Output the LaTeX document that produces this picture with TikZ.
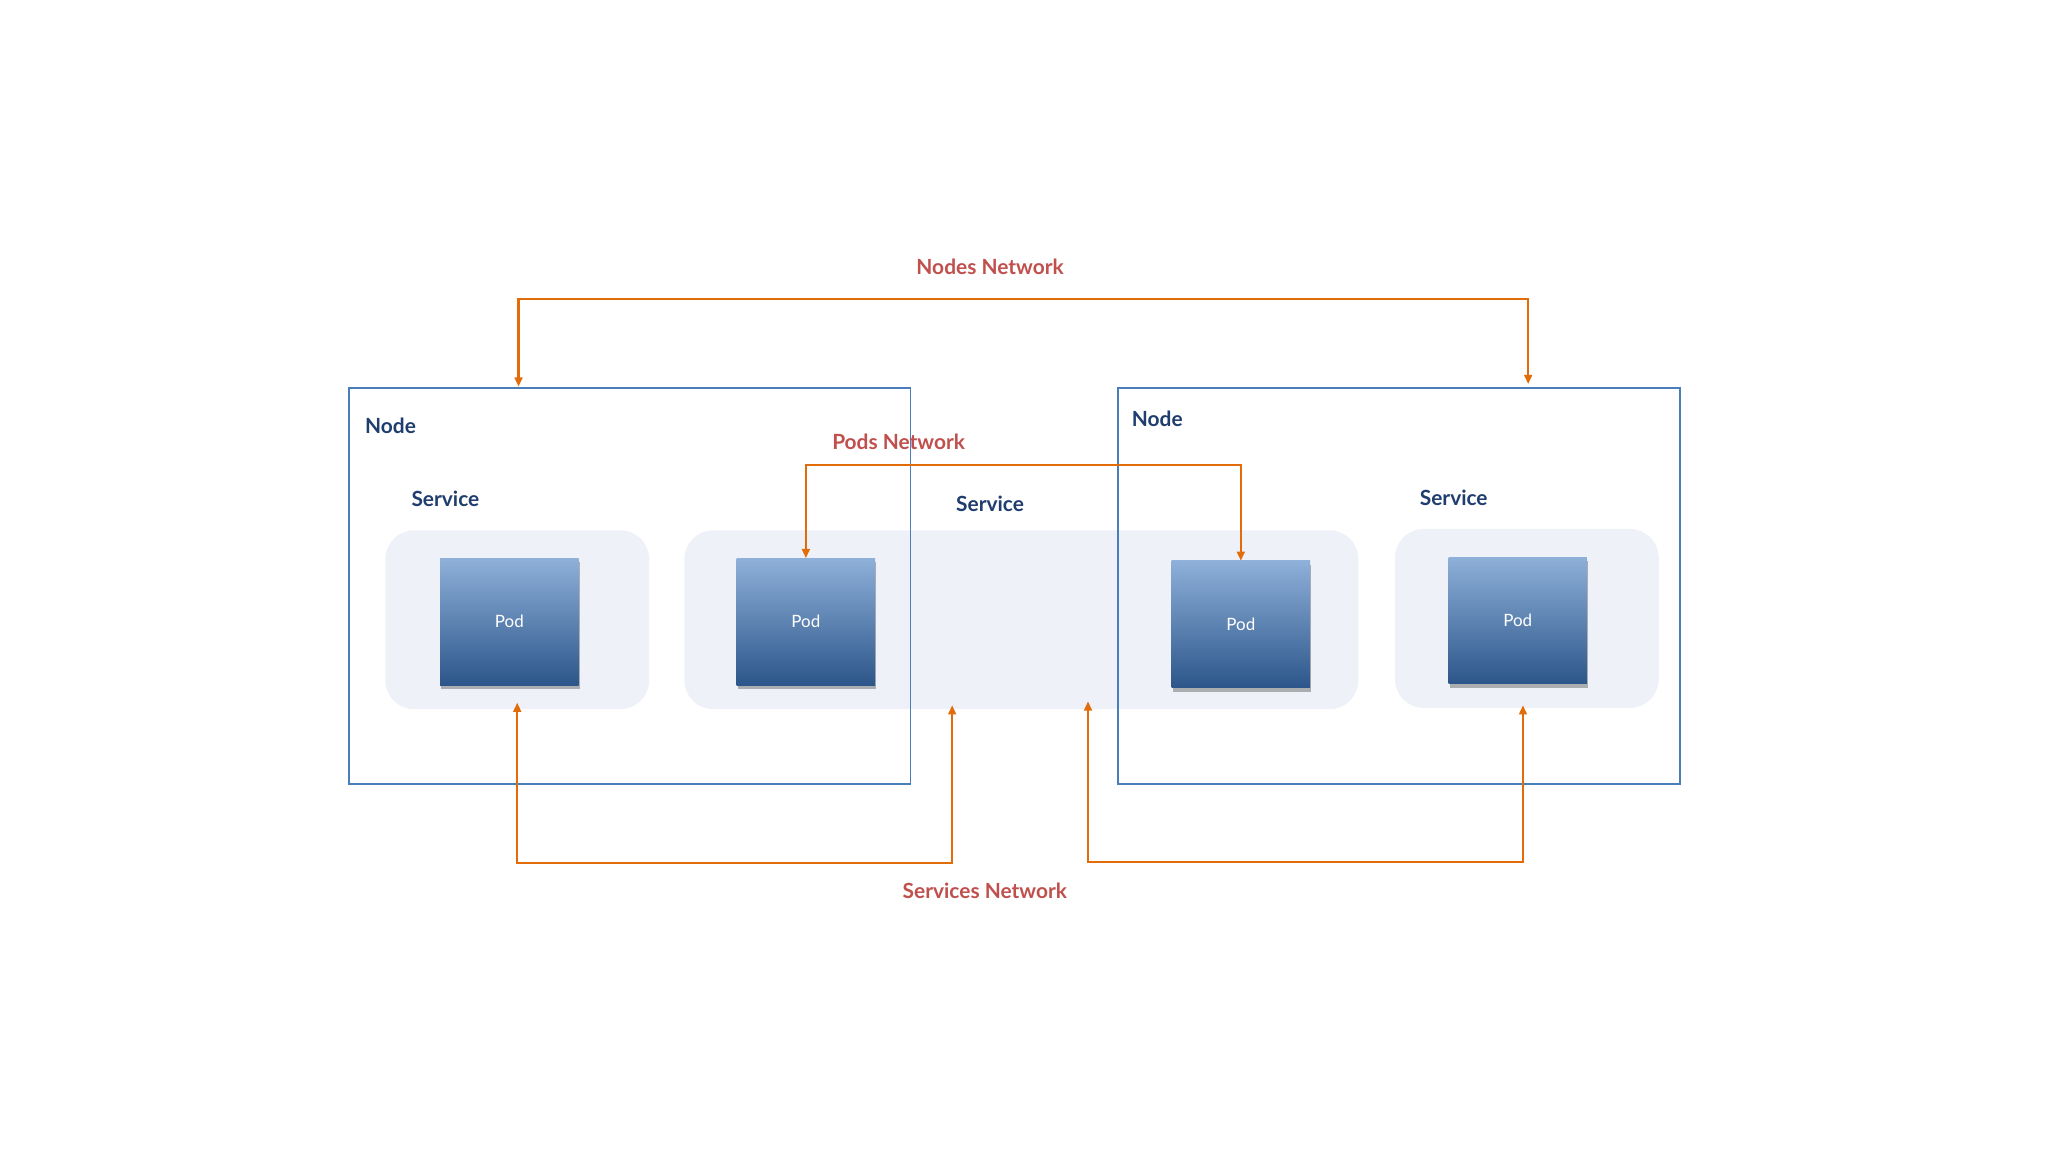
\documentclass[tikz,border=0pt]{standalone}
\usepackage{fontspec}
\setmainfont{Lato}
\usetikzlibrary{arrows.meta,shadows}
\definecolor{nodeblue}{HTML}{4A7EBB}
\definecolor{txtblue}{HTML}{1F3D6E}
\definecolor{netred}{HTML}{C0504D}
\definecolor{arr}{HTML}{E36C0A}
\definecolor{svcfill}{HTML}{EEF2F8}
\definecolor{podtop}{HTML}{8EB0D9}
\definecolor{podbot}{HTML}{2C568A}
\begin{document}
\begin{tikzpicture}[x=1pt,y=-1pt,
  box/.style={draw=nodeblue,line width=1.3pt},
  svc/.style={fill=svcfill,rounded corners=22pt},
  pod/.style={top color=podtop,bottom color=podbot,minimum width=106pt,minimum height=97pt,inner sep=0pt,text=white,font=\fontsize{13}{15}\selectfont,drop shadow={shadow xshift=1pt,shadow yshift=-3pt,opacity=0.6}},
  lbl/.style={text=txtblue,font=\bfseries\fontsize{16}{18}\selectfont},
  net/.style={text=netred,font=\bfseries\fontsize{16}{18}\selectfont},
  conn/.style={draw=arr,line width=1.6pt,-{Triangle[length=7pt,width=6pt]}},
  conn2/.style={draw=arr,line width=1.6pt,{Triangle[length=7pt,width=6pt]}-{Triangle[length=7pt,width=6pt]}}]
\useasboundingbox (0,0) rectangle (1568,882);
\fill[svc] (295,406) rectangle (497,543);
\fill[svc] (524,406) rectangle (1040,543);
\fill[svc] (1068,405) rectangle (1270,542);
\draw[box] (267,297) rectangle (697,600);
\draw[box] (856,297) rectangle (1286,600);
\node[lbl] (n1) at (299,326) {Node};
\node[lbl] (n2) at (886,321) {Node};
\node[lbl] (s1) at (341,382) {Service};
\node[lbl] (s2) at (758,386) {Service};
\node[lbl] (s3) at (1113,381) {Service};
\node[pod] (p1) at (390,476) {Pod};
\node[pod] (p2) at (617,476) {Pod};
\node[pod] (p3) at (950,478) {Pod};
\node[pod] (p4) at (1162,475) {Pod};
\node[net] (nn) at (758,204) {Nodes Network};
\node[net] (pn) at (688,338) {Pods Network};
\node[net] (sn) at (754,682) {Services Network};
\coordinate (a1) at (397,296);
\coordinate (a2) at (1170,294);
\coordinate (b1) at (729,540);
\coordinate (b2) at (833,537);
\draw[conn2] (a1) -- (397,229) -- (1170,229) -- (a2);
\draw[conn2] (p2.north) -- (617,356) -- (950,356) -- (p3.north);
\draw[conn2] (396,538) -- (396,661) -- (729,661) -- (b1);
\draw[conn2] (b2) -- (833,660) -- (1166,660) -- (1166,540);
\end{tikzpicture}
\end{document}
